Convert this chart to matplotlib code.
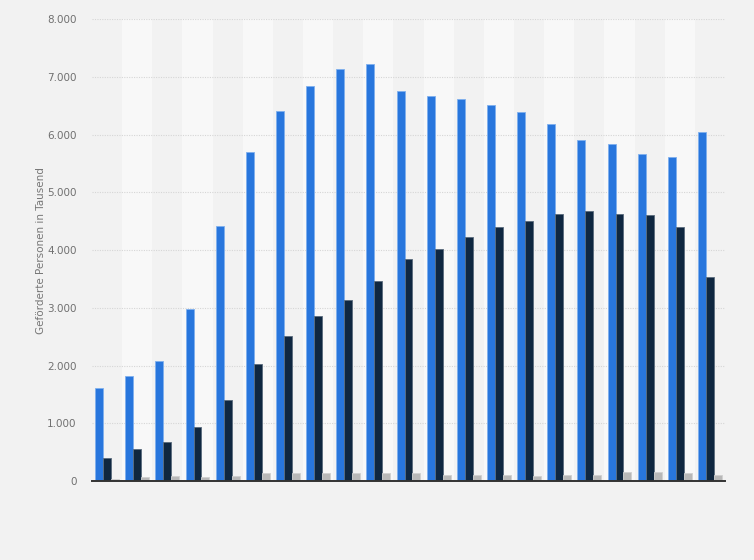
import matplotlib
matplotlib.use("Agg")
import matplotlib.pyplot as plt
from matplotlib.ticker import FuncFormatter
import numpy as np

# values in thousands, 21 groups
series_a = [1620, 1814, 2074, 2975, 4413, 5695, 6411, 6845, 7133, 7226, 6758,
            6671, 6619, 6515, 6394, 6186, 5909, 5840, 5666, 5614, 6047]
series_b = [393, 549, 670, 930, 1398, 2022, 2507, 2853, 3131, 3460, 3841,
            4015, 4222, 4396, 4500, 4621, 4673, 4621, 4604, 4396, 3530]
series_c = [35, 75, 92, 75, 92, 144, 144, 144, 144, 133, 133,
            110, 110, 110, 87, 110, 110, 162, 162, 144, 110]
y_ticks = [0, 1000, 2000, 3000, 4000, 5000, 6000, 7000, 8000]
y_label = "Geförderte Personen in Tausend"

BG = "#f2f2f2"
BAND = "#f8f8f8"
colors = ["#2876dd", "#0f2740", "#b8b8b8"]
edges = ["#7fb0ee", "#5a6b7c", "#d0d0d0"]

fig = plt.figure(figsize=(7.54, 5.6), dpi=100, facecolor=BG)
ax = fig.add_axes([92 / 754, 1 - 481 / 560, (725 - 92) / 754, (481 - 19.3) / 560])
ax.set_facecolor(BG)

n = len(series_a)
x = np.arange(n)
w = 0.265

# alternating column shading
for i in range(1, n, 2):
    ax.axvspan(i - 0.5, i + 0.5, color=BAND, zorder=0, lw=0)

for k, vals in enumerate([series_a, series_b, series_c]):
    ax.bar(x + (k - 1) * w, vals, width=w, color=colors[k],
           edgecolor=edges[k], linewidth=0.6, zorder=3)

ax.set_xlim(-0.5, n - 0.5)
ax.set_ylim(0, 8000)
ax.set_yticks(y_ticks)
ax.yaxis.set_major_formatter(FuncFormatter(lambda v, p: f"{int(v):,}".replace(",", ".")))
ax.grid(axis="y", color="#d6d6d6", linestyle=(0, (1, 1.2)), linewidth=0.8, zorder=1)
ax.set_xticks([])
ax.tick_params(axis="y", length=0, pad=11, labelsize=7.5, labelcolor="#707070")
for s in ["top", "right", "left"]:
    ax.spines[s].set_visible(False)
ax.spines["bottom"].set_color("#333333")
ax.spines["bottom"].set_linewidth(1.4)
ax.spines["bottom"].set_zorder(4)
ax.set_ylabel(y_label, fontsize=7.5, color="#777777", labelpad=1)

fig.savefig("out.png", dpi=100, facecolor=BG)
